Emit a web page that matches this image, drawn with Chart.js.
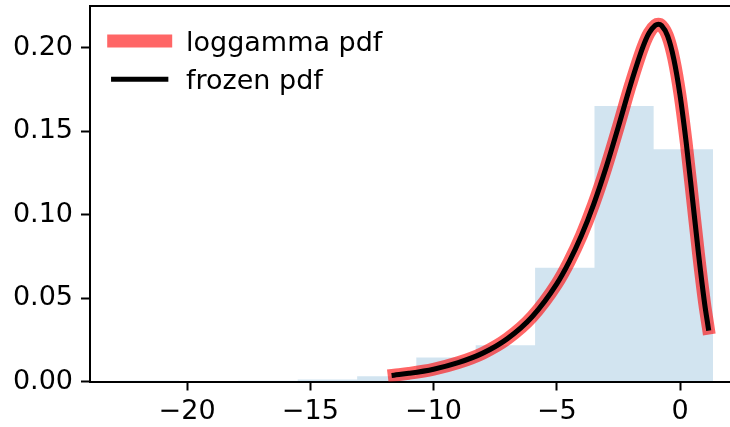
<!DOCTYPE html>
<html>
<head>
<meta charset="utf-8">
<script src="https://cdn.jsdelivr.net/npm/chart.js@4"></script>
<style>
  html, body { margin: 0; padding: 0; background: #fff; overflow: hidden; }
  #wrap { width: 750px; height: 427px; }
</style>
</head>
<body>
<div id="wrap"><canvas id="chart" width="750" height="427"></canvas></div>
<script>
// histogram (density, stepfilled), bin edges
const binEdges = [-22.74, -20.33, -17.92, -15.51, -13.10, -10.70, -8.29, -5.88, -3.47, -1.07, 1.34];
const binDensity = [0.0004, 0.0, 0.0004, 0.0012, 0.0032, 0.0144, 0.0218, 0.0682, 0.1652, 0.1393];

// pdf curve
const pdfX = [-11.6, -11, -10, -9, -8, -7, -6, -5, -4.5, -4, -3.5, -3, -2.5, -2, -1.5, -1.25, -1, -0.88, -0.75, -0.5, -0.25, 0, 0.25, 0.5, 0.75, 1, 1.15];
const pdfY = [0.0038, 0.0049, 0.0074, 0.0113, 0.0170, 0.0257, 0.0388, 0.0585, 0.0717, 0.0875, 0.1064, 0.1283, 0.1528, 0.1782, 0.2007, 0.2090, 0.2136, 0.2142, 0.2134, 0.2070, 0.1932, 0.1718, 0.1434, 0.1104, 0.0767, 0.0466, 0.0320];

const xTicks = [-20, -15, -10, -5, 0];
const yTicks = [0, 0.05, 0.10, 0.15, 0.20];
const legendLabels = ["loggamma pdf", "frozen pdf"];

const FONT = "DejaVu Sans";
const FONT_SIZE = 27;
const RED = "rgba(255,0,0,0.6)";

const histData = binDensity.map((d, i) => ({ x: binEdges[i], y: d }));
histData.push({ x: binEdges[binEdges.length - 1], y: 0 });
const pdfData = pdfX.map((x, i) => ({ x: x, y: pdfY[i] }));

const framePlugin = {
  id: "frame",
  afterDraw(chart) {
    const { ctx, chartArea: a } = chart;
    ctx.save();
    ctx.strokeStyle = "#000";
    ctx.lineWidth = 2;
    ctx.beginPath();
    ctx.moveTo(a.left, a.top);
    ctx.lineTo(a.right, a.top);
    ctx.lineTo(a.right, a.bottom);
    ctx.stroke();

    // legend, no frame
    const rows = [
      { color: RED, width: 12.8, y: 41 },
      { color: "#000", width: 5.1, y: 79.3 }
    ];
    rows.forEach((r, i) => {
      ctx.strokeStyle = r.color;
      ctx.lineWidth = r.width;
      ctx.lineCap = "square";
      ctx.beginPath();
      ctx.moveTo(113.6, r.y);
      ctx.lineTo(165.8, r.y);
      ctx.stroke();
      ctx.fillStyle = "#000";
      ctx.font = FONT_SIZE + "px '" + FONT + "'";
      ctx.textBaseline = "alphabetic";
      ctx.textAlign = "left";
      ctx.fillText(legendLabels[i], 186, r.y + 9.8);
    });
    ctx.restore();
  }
};

new Chart(document.getElementById("chart"), {
  type: "line",
  data: {
    datasets: [
      {
        label: "frozen pdf",
        data: pdfData,
        borderColor: "#000",
        borderWidth: 5.1,
        borderCapStyle: "square",
        borderJoinStyle: "round",
        cubicInterpolationMode: "monotone",
        pointRadius: 0,
        fill: false,
        order: 0
      },
      {
        label: "loggamma pdf",
        data: pdfData,
        borderColor: RED,
        borderWidth: 12.8,
        borderCapStyle: "square",
        borderJoinStyle: "round",
        cubicInterpolationMode: "monotone",
        pointRadius: 0,
        fill: false,
        order: 1
      },
      {
        label: "hist",
        data: histData,
        stepped: true,
        borderWidth: 0,
        borderColor: "rgba(0,0,0,0)",
        backgroundColor: "rgba(31,119,180,0.2)",
        pointRadius: 0,
        fill: "origin",
        order: 2
      }
    ]
  },
  options: {
    responsive: false,
    devicePixelRatio: 1,
    animation: false,
    layout: { padding: { top: 6, right: 7.4, left: 0, bottom: 0 } },
    plugins: { legend: { display: false }, tooltip: { enabled: false } },
    scales: {
      x: {
        type: "linear",
        min: -23.94,
        max: 2.54,
        afterBuildTicks: s => { s.ticks = xTicks.map(v => ({ value: v })); },
        afterFit: s => { s.height = 45.5; s.paddingLeft = 0; s.paddingRight = 0; },
        grid: { drawOnChartArea: false, drawTicks: true, tickLength: 9, tickWidth: 2, tickColor: "#000" },
        border: { display: true, color: "#000", width: 2 },
        ticks: {
          color: "#000",
          padding: 5,
          maxRotation: 0,
          font: { family: FONT, size: FONT_SIZE },
          callback: v => v < 0 ? "\u2212" + Math.abs(v) : String(v)
        }
      },
      y: {
        min: 0,
        max: 0.2251,
        afterBuildTicks: s => { s.ticks = yTicks.map(v => ({ value: v })); },
        afterFit: s => { s.width = 90; s.paddingTop = 0; s.paddingBottom = 0; },
        grid: { drawOnChartArea: false, drawTicks: true, tickLength: 9, tickWidth: 2, tickColor: "#000" },
        border: { display: true, color: "#000", width: 2 },
        ticks: {
          color: "#000",
          padding: 8,
          font: { family: FONT, size: FONT_SIZE },
          callback: v => v.toFixed(2)
        }
      }
    }
  },
  plugins: [framePlugin]
});
</script>
</body>
</html>
